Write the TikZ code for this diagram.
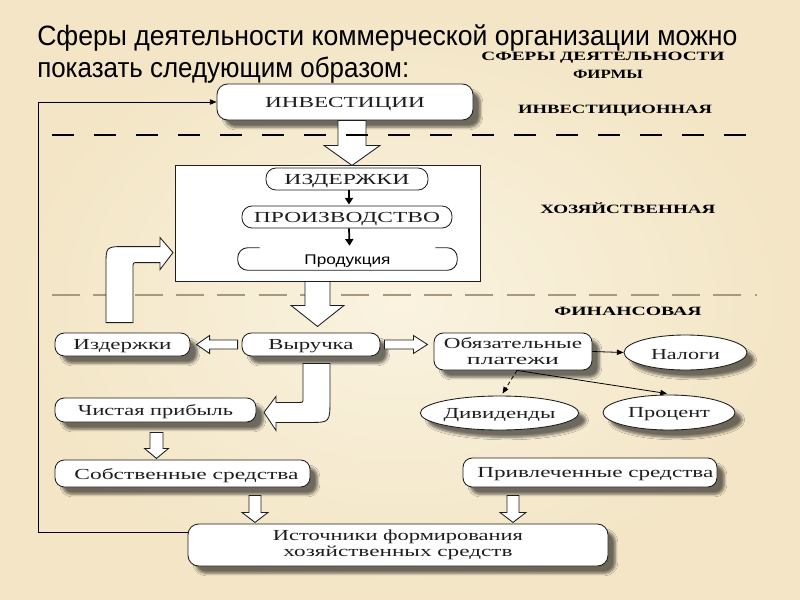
\documentclass[tikz,border=0pt]{standalone}
\usepackage{fontspec}
\setmainfont{Liberation Serif}
\newfontfamily\sansf{Liberation Sans}
\usetikzlibrary{calc,shapes.geometric,shadows.blur,arrows.meta}
\newdimen\pxu \pxu=0.75pt
\newcommand\fitw[2]{\resizebox{#1\pxu}{\height}{#2}}
\newcommand\bt[2]{\raisebox{-1.5pt}[\height][\depth]{\fitw{#1}{#2}}}
\definecolor{bgout}{RGB}{243,229,197}
\definecolor{bgin}{RGB}{250,243,224}
\definecolor{ink}{RGB}{30,30,30}
\definecolor{dashtwo}{RGB}{168,152,126}
\tikzset{
  sz/.style 2 args={minimum width=#1*0.75pt, minimum height=#2*0.75pt},
  shd/.style={blur shadow={shadow xshift=5.5pt, shadow yshift=-5.5pt, shadow blur steps=6, shadow opacity=55}},
  box/.style={draw=ink, fill=white, line width=0.65pt, rounded corners=6pt, inner sep=0pt, shd, font=\fontsize{11.5}{13}\selectfont, text=ink},
  box2/.style={box, align=center},
  pill/.style={draw=ink, fill=white, line width=0.65pt, rounded corners=7.5pt, inner sep=0pt, font=\fontsize{11.5}{13}\selectfont, text=ink},
  oval/.style={ellipse, draw=ink, fill=white, line width=0.65pt, inner sep=0pt, shd, font=\fontsize{11.5}{13}\selectfont, text=ink},
  blk/.style={draw=ink, fill=white, line width=0.65pt, line join=miter},
  sect/.style={font=\bfseries\fontsize{9.5}{11}\selectfont, text=black, inner sep=0pt},
  ttl/.style={font=\sansf\fontsize{21}{24}\selectfont, text=black, inner sep=0pt, anchor=base west},
  smallarr/.style={line width=1.3pt, draw=black, -{Triangle[length=5pt,width=6pt]}},
  thinarr/.style={line width=0.6pt, draw=black, -{Triangle[length=5pt,width=4pt]}},
}
\newcommand\bdown[5]{\draw[blk] #1 ++(-#3,0) -- ++(0,#2-#5) -- ++(#3-#4,0) -- ++(#4,#5) -- ++(#4,-#5) -- ++(#3-#4,0) -- ++(0,-#2+#5) -- cycle;}
\newcommand\bleft[5]{\draw[blk] #1 ++(0,-#3) -- ++(-#2+#5,0) -- ++(0,#3-#4) -- ++(-#5,#4) -- ++(#5,#4) -- ++(0,#3-#4) -- ++(#2-#5,0) -- cycle;}
\newcommand\bright[5]{\draw[blk] #1 ++(0,-#3) -- ++(#2-#5,0) -- ++(0,#3-#4) -- ++(#5,#4) -- ++(-#5,#4) -- ++(0,#3-#4) -- ++(-#2+#5,0) -- cycle;}
\begin{document}
\begin{tikzpicture}[x=0.75pt,y=-0.75pt]
\useasboundingbox (0,0) rectangle (800,600);
\shade[inner color=bgin, outer color=bgout] (0,0) rectangle (800,600);

% title
\node[ttl] (t1) at (37,45) {\fitw{700}{Сферы деятельности коммерческой организации можно}};
\node[ttl] (t2) at (37,77) {\fitw{372}{показать следующим образом:}};
\node[sect] (s0) at (603,58) {\fitw{243}{СФЕРЫ ДЕЯТЕЛЬНОСТИ}};
\node[sect] (s0b) at (608,74) {\fitw{70}{ФИРМЫ}};
\node[sect] (s1) at (615,111) {\fitw{194}{ИНВЕСТИЦИОННАЯ}};
\node[sect] (s2) at (628,208) {\fitw{175}{ХОЗЯЙСТВЕННАЯ}};
\node[sect] (s3) at (628,311) {\fitw{147}{ФИНАНСОВАЯ}};

% dashed separator 2 (behind arrows)
\draw[dashtwo, line width=1.4pt, dash pattern=on 21pt off 10pt] (52,295) -- (757,295);

% top box
\node[box, sz={256}{36}, rounded corners=8pt] (inv) at (345,102) {\bt{160}{ИНВЕСТИЦИИ}};

% big production box
\node[draw=ink, fill=white, line width=0.65pt, sz={305}{116}] (big) at (327.5,223) {};
\node[pill, sz={162}{22}] (izd1) at (347,179) {\bt{125}{ИЗДЕРЖКИ}};
\node[pill, sz={210}{22}] (proizv) at (347,217) {\bt{186}{ПРОИЗВОДСТВО}};
\node[inner sep=0pt, sz={219}{22}, font=\sansf\fontsize{10.5}{12}\selectfont, text=black] (prod) at (347.5,259) {\bt{86}{Продукция}};
\draw[ink, line width=0.65pt, rounded corners=7.5pt] ($(prod.north west)+(22,0)$) -- (prod.north west) -- (prod.south west) -- (prod.south east) -- (prod.north east) -- ($(prod.north east)+(-22,0)$);
\draw[smallarr] ($(izd1.south)+(2,0)$) -- ($(proizv.north)+(2,-1)$);
\draw[smallarr] ($(proizv.south)+(2,0)$) -- ($(prod.north)+(2,-2)$);

% financial boxes
\node[box, sz={135}{23}, rounded corners=7pt] (izd2) at (122.5,344.5) {\bt{98}{Издержки}};
\node[box, sz={138}{23}, rounded corners=7pt] (vyr) at (311,344.5) {\bt{85}{Выручка}};
\node[box2, sz={158}{37}, rounded corners=7pt] (obyaz) at (513,351.5) {\fitw{138}{Обязательные}\\[-1pt]\fitw{92}{платежи}};
\node[oval, sz={123}{35}] (nalogi) at (685.5,352.5) {\bt{69}{Налоги}};
\node[oval, sz={135}{34}] (divid) at (499.5,413) {\bt{112}{Дивиденды}};
\node[oval, sz={132}{35}] (proc) at (669,412.5) {\bt{82}{Процент}};
\node[box, sz={201}{24}, rounded corners=7pt] (chist) at (155.5,410) {\bt{155}{Чистая прибыль}};
\node[box, sz={255}{27}, rounded corners=7pt] (sobst) at (182.5,473.5) {\hspace*{6pt}\bt{224}{Собственные средства}};
\node[box, sz={254}{29}, rounded corners=7pt] (privl) at (590,472.5) {\hspace*{8pt}\bt{236}{Привлеченные средства}};
\node[box2, sz={420}{42}, rounded corners=8pt] (ist) at (398,545) {\fitw{250}{Источники формирования}\\[-1pt]\fitw{229}{хозяйственных средств}};

% feedback line
\draw[thinarr] (ist.west |- 0,532) -- (38,532) -- (38,0 |- inv.west) -- (inv.west);

% block arrows
\bdown{($(inv.south)+(7,0)$)}{45}{14}{28}{20}
\bdown{($(big.south)+(-10,0)$)}{45}{12.5}{26.5}{21}
\bdown{($(chist.south)+(1,10)$)}{26}{6.5}{12}{10}
\bdown{($(sobst.south)+(72.5,8)$)}{27}{6}{13}{10}
\bdown{($(privl.south)+(-77,8)$)}{27}{6}{13}{10}
\bleft{($(vyr.west)+(-4,0)$)}{41}{4.5}{9}{13}
\bright{($(vyr.east)+(4,0)$)}{43}{4.5}{9}{14}

% bent arrow: costs -> production box
\begin{scope}[shift={(izd2.north)}]
\draw[blk] (-16.5,-10) -- (-16.5,-67) .. controls (-16.5,-86) .. (2.5,-86) -- (37.5,-86) -- (37.5,-95) -- (50.5,-80) -- (37.5,-63) -- (37.5,-70) -- (15.5,-70) .. controls (10.5,-70) .. (10.5,-65) -- (10.5,-10) -- cycle;
\end{scope}
% bent arrow: revenue -> net profit
\begin{scope}[shift={(vyr.south)}]
\draw[blk] (19,7) -- (19,42) .. controls (19,66) .. (-1,66) -- (-35,66) -- (-35,74) -- (-47,56) -- (-35,40) -- (-35,46) -- (-12,46) .. controls (-8,46) .. (-8,42) -- (-8,7) -- cycle;
\end{scope}

% dashed separator 1 (on top)
\draw[black, line width=1.9pt, dash pattern=on 16.5pt off 15pt] (52,135) -- (757,135);

% thin arrows in financial part
\draw[thinarr] (obyaz.east) -- (nalogi.west);
\draw[thinarr, densely dashed] ($(obyaz.south)+(4,0)$) -- ($(divid.north)+(3,-2)$);
\draw[thinarr] ($(obyaz.south)+(4,0)$) -- ($(proc.north)+(-2,-1)$);
\end{tikzpicture}
\end{document}
